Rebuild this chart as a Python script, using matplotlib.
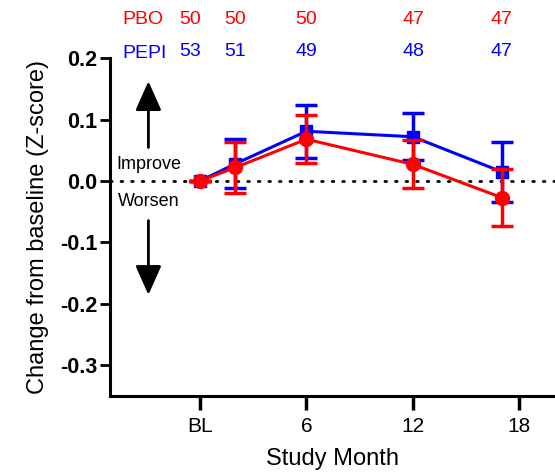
import matplotlib
matplotlib.use("Agg")
import matplotlib.pyplot as plt
from matplotlib.transforms import blended_transform_factory

plt.rcParams['font.family'] = ['Liberation Sans', 'DejaVu Sans']

months = [0, 2, 6, 12, 17]
tick_pos = [0, 6, 12, 18]
tick_labels = ['BL', '6', '12', '18']

pepi_mean = [0.0, 0.028, 0.081, 0.072, 0.015]
pepi_err = [0.0, 0.040, 0.043, 0.038, 0.049]
pbo_mean = [0.0, 0.022, 0.068, 0.027, -0.027]
pbo_err = [0.0, 0.041, 0.039, 0.039, 0.046]

pbo_n = [50, 50, 50, 47, 47]
pepi_n = [53, 51, 49, 48, 47]

fig = plt.figure(figsize=(5.55, 4.73), dpi=100)
ax = fig.add_axes([0.198, 0.163, 0.802, 0.714])

ax.axhline(0, color='black', lw=2, ls=(0, (0.6, 3.2)), dash_capstyle='round', zorder=1)

ax.errorbar(months, pepi_mean, yerr=pepi_err, color='#0000ff', marker='s', ms=9,
            lw=2.2, capsize=8, capthick=2.5, elinewidth=2.5, zorder=3)
ax.errorbar(months, pbo_mean, yerr=pbo_err, color='#ff0000', marker='o', ms=10,
            lw=2.2, capsize=8, capthick=2.5, elinewidth=2.5, zorder=4)

ax.set_xlim(-5.07, 20.0)
ax.set_ylim(-0.35, 0.2)
ax.set_yticks([0.2, 0.1, 0.0, -0.1, -0.2, -0.3])
ax.set_yticklabels(['0.2', '0.1', '0.0', '-0.1', '-0.2', '-0.3'], fontweight='bold', fontsize=15.5)
ax.set_xticks(tick_pos)
ax.set_xticklabels(tick_labels, fontsize=15)
ax.tick_params(axis='y', length=7, width=2, pad=2)
ax.tick_params(axis='x', length=10, width=2.5, pad=5)
for s in ['top', 'right']:
    ax.spines[s].set_visible(False)
for s in ['left', 'bottom']:
    ax.spines[s].set_linewidth(2.2)

ax.set_ylabel('Change from baseline (Z-score)', fontsize=17, labelpad=8)
ax.set_xlabel('Study Month', fontsize=17, labelpad=9)

# Improve / Worsen annotations
ax.annotate('', xy=(-2.9, 0.167), xytext=(-2.9, 0.05),
            arrowprops=dict(arrowstyle='-|>,head_length=1.8,head_width=0.8', color='black', lw=2))
ax.annotate('', xy=(-2.9, -0.19), xytext=(-2.9, -0.06),
            arrowprops=dict(arrowstyle='-|>,head_length=1.8,head_width=0.8', color='black', lw=2))
ax.text(-2.9, 0.027, 'Improve', ha='center', va='center', fontsize=13)
ax.text(-2.9, -0.034, 'Worsen', ha='center', va='center', fontsize=13)

# N labels
tr = blended_transform_factory(ax.transData, fig.transFigure)
fig.text(143 / 555, 1 - 20 / 473, 'PBO', color='#ff0000', fontsize=14, ha='center', va='center')
fig.text(145 / 555, 1 - 53 / 473, 'PEPI', color='#0000ff', fontsize=14, ha='center', va='center')
for i, (m, a, b) in enumerate(zip(months, pbo_n, pepi_n)):
    xx = m - 0.55 if i == 0 else m
    ax.text(xx, 1 - 20 / 473, str(a), color='#ff0000', fontsize=14, ha='center', va='center', transform=tr)
    ax.text(xx, 1 - 52 / 473, str(b), color='#0000ff', fontsize=14, ha='center', va='center', transform=tr)

fig.savefig('out.png', dpi=100)
